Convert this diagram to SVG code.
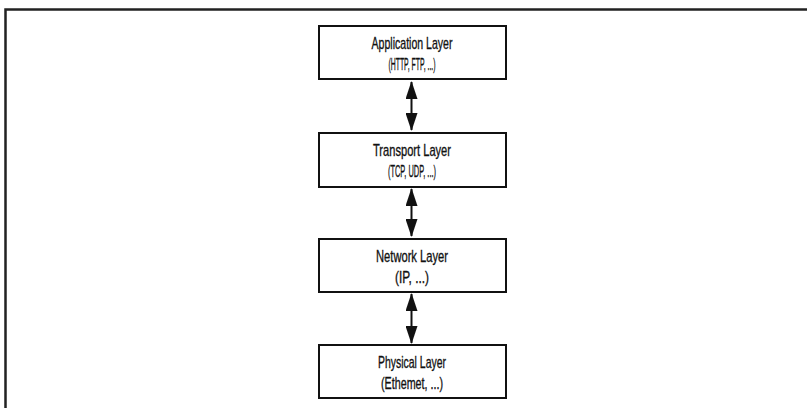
<svg xmlns="http://www.w3.org/2000/svg" width="807" height="408" viewBox="0 0 807 408">
<style>
.box{fill:#fff;stroke:#111;stroke-width:2}
.t{font-family:"Liberation Sans",Arial,sans-serif;font-size:17px;fill:#111;stroke:#111;stroke-width:0.35;text-anchor:middle}
.c{stroke:#111;stroke-width:2;fill:none;marker-start:url(#ah);marker-end:url(#ah)}
</style>
<defs>
<marker id="ah" viewBox="0 0 18 12" refX="17" refY="6" markerWidth="18" markerHeight="12" markerUnits="userSpaceOnUse" orient="auto-start-reverse">
<path d="M0,0 L18,6 L0,12 Z" fill="#111"/>
</marker>
</defs>
<rect width="807" height="408" fill="#fff"/>
<path d="M5.5,408 V9.5 H807" fill="none" stroke="#222" stroke-width="2.5"/>
<g id="connectors">
<line class="c" x1="411.5" y1="82" x2="411.5" y2="130"/>
<line class="c" x1="411.5" y1="189" x2="411.5" y2="236"/>
<line class="c" x1="411.5" y1="294" x2="411.5" y2="343"/>
</g>
<g id="application">
<rect class="box" x="319" y="26" width="187" height="53"/>
<text class="t" x="412" y="49" textLength="81" lengthAdjust="spacingAndGlyphs">Application Layer</text>
<text class="t" x="412" y="70" textLength="47" lengthAdjust="spacingAndGlyphs">(HTTP, FTP, ...)</text>
</g>
<g id="transport">
<rect class="box" x="319" y="133" width="187" height="54"/>
<text class="t" x="412" y="156" textLength="78" lengthAdjust="spacingAndGlyphs">Transport Layer</text>
<text class="t" x="412" y="177" textLength="48" lengthAdjust="spacingAndGlyphs">(TCP, UDP, ...)</text>
</g>
<g id="network">
<rect class="box" x="319" y="239" width="187" height="53"/>
<text class="t" x="412" y="262" textLength="72" lengthAdjust="spacingAndGlyphs">Network Layer</text>
<text class="t" x="412" y="283" textLength="34" lengthAdjust="spacingAndGlyphs">(IP, ...)</text>
</g>
<g id="physical">
<rect class="box" x="319" y="345" width="187" height="53"/>
<text class="t" x="412" y="368" textLength="68" lengthAdjust="spacingAndGlyphs">Physical Layer</text>
<text class="t" x="412" y="389" textLength="62" lengthAdjust="spacingAndGlyphs">(Ethemet, ...)</text>
</g>
</svg>
